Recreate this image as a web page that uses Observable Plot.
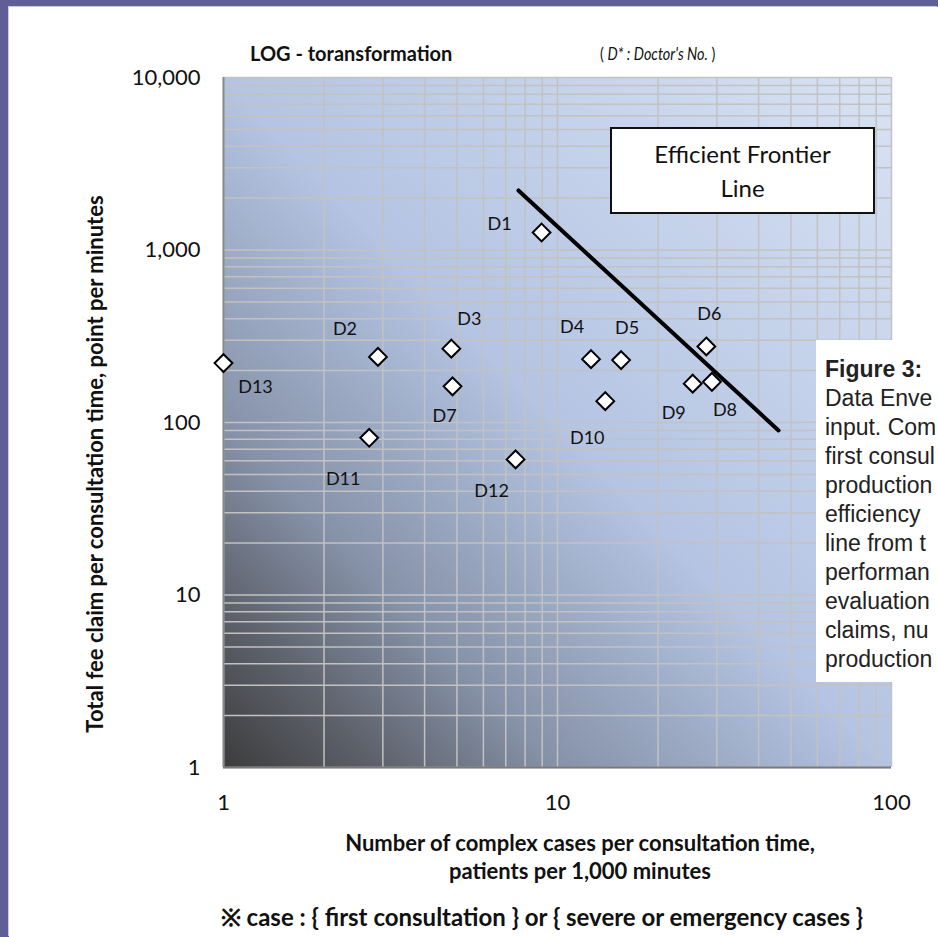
<!DOCTYPE html>
<html>
<head>
<meta charset="utf-8">
<script src="https://cdn.jsdelivr.net/npm/d3@7"></script>
<script src="https://cdn.jsdelivr.net/npm/@observablehq/plot@0.6"></script>
<style>
html,body{margin:0;padding:0;background:#5f5e97;}
#page{position:relative;width:938px;height:937px;overflow:hidden;background:#5f5e97;}
#panel{position:absolute;left:9px;top:7px;right:0;bottom:0;background:#fff;box-shadow:-1px -1px 0 #c9c8e6;}
#chart{position:absolute;left:0;top:0;}
.txt{position:absolute;font-family:Lato,sans-serif;color:#111;white-space:nowrap;line-height:1;}
#effbox{position:absolute;left:610px;top:127px;width:261px;height:83px;background:#fff;border:2px solid #111;display:flex;flex-direction:column;align-items:center;justify-content:center;font-family:Lato,sans-serif;font-size:24px;line-height:34px;color:#111;}
#figbox{position:absolute;left:816px;top:340px;width:122px;height:342px;background:#fff;overflow:hidden;font-family:"Liberation Sans",Arial,sans-serif;font-size:23px;line-height:29px;color:#222;box-sizing:border-box;padding:15px 0 0 9px;}
#figbox div{white-space:nowrap;}
</style>
</head>
<body>
<div id="page">
  <div id="panel"></div>
  <div id="chart"></div>
  <div class="txt" style="left:250px;top:43px;font-weight:bold;font-size:20px;">LOG - toransformation</div>
  <div class="txt" style="left:600px;top:44px;font-size:18px;transform:scaleX(0.8);transform-origin:0 50%;">( <i>D* : Doctor's No.</i> )</div>
  <div class="txt" style="left:95px;top:464px;font-weight:bold;font-size:22px;transform:translate(-50%,-50%) rotate(-90deg);">Total fee claim per consultation time, point per minutes</div>
  <div class="txt" style="left:230px;width:700px;top:829px;text-align:center;font-weight:bold;font-size:22px;line-height:28px;">Number of complex cases per consultation time,<br>patients per 1,000 minutes</div>
  <div class="txt" style="left:92px;width:900px;top:905px;text-align:center;font-weight:bold;font-size:24px;">※ case : { first consultation } or { severe or emergency cases }</div>
  <div id="effbox"><div>Efficient Frontier</div><div>Line</div></div>
  <div id="figbox">
    <div><b>Figure 3:</b></div>
    <div>Data Enve</div>
    <div>input. Com</div>
    <div>first consul</div>
    <div>production</div>
    <div>efficiency</div>
    <div>line from t</div>
    <div>performan</div>
    <div>evaluation</div>
    <div>claims, nu</div>
    <div>production</div>
  </div>
</div>
<script>
// ---- data ----
const doctors = ["D1","D2","D3","D4","D5","D6","D7","D8","D9","D10","D11","D12","D13"];
const complexCases = [8.96, 2.90, 4.81, 12.6, 15.5, 27.9, 4.85, 29.0, 25.4, 13.9, 2.73, 7.49, 1.0];
const feeClaim =     [1263, 240, 268, 233, 230, 276, 162, 172, 168, 133, 81.5, 61.1, 221];
const frontierCases = [7.64, 45.9];
const frontierFee = [2213, 89.9];
const xTickValues = [1, 10, 100];
const yTickValues = [1, 10, 100, 1000, 10000];

// ---- label placement (pixel offsets from each marker) ----
const labelDx = [-42, -33, 18, -19, 6, 3, -8, 13, -19, -18, -26, -24, 32];
const labelDy = [-8, -28, -29, -32, -32, -32, 30, 28, 30, 37, 41, 32, 24];

const points = doctors.map((d, i) => ({doctor: d, cases: complexCases[i], fee: feeClaim[i]}));
const frontier = frontierCases.map((c, i) => ({cases: c, fee: frontierFee[i]}));

const xGrid = d3.scaleLog().domain([1, 100]).ticks();
const yGrid = d3.scaleLog().domain([1, 10000]).ticks();

function background(index, scales, values, dims) {
  const {width, height, marginLeft, marginRight, marginTop, marginBottom} = dims;
  const g = d3.create("svg:g");
  const grad = g.append("defs").append("linearGradient")
    .attr("id", "plotbg").attr("x1", 0).attr("y1", 1).attr("x2", 1).attr("y2", 0);
  [[0, "#3c3c3c"], [0.12, "#5e626c"], [0.25, "#8692a8"], [0.5, "#b4c4e2"], [1, "#d8e2f4"]]
    .forEach(([o, c]) => grad.append("stop").attr("offset", o).attr("stop-color", c));
  g.append("rect")
    .attr("x", marginLeft).attr("y", marginTop)
    .attr("width", width - marginLeft - marginRight)
    .attr("height", height - marginTop - marginBottom)
    .attr("fill", "url(#plotbg)");
  return g.node();
}

const chart = Plot.plot({
  width: 938,
  height: 937,
  marginLeft: 223,
  marginRight: 47,
  marginTop: 77,
  marginBottom: 170,
  style: {fontFamily: "Lato, sans-serif", fontSize: "22px", color: "#111", background: "transparent", overflow: "visible"},
  x: {type: "log", domain: [1, 100], ticks: xTickValues, tickFormat: ",", tickSize: 0, tickPadding: 27, label: null},
  y: {type: "log", domain: [1, 10000], ticks: yTickValues, tickFormat: ",", tickSize: 0, tickPadding: 23, label: null},
  marks: [
    background,
    Plot.ruleX(xGrid, {stroke: "#c2c2c2", strokeWidth: 1.5}),
    Plot.ruleY(yGrid, {stroke: "#c2c2c2", strokeWidth: 1.5}),
    Plot.ruleX([1], {stroke: "#8a8a8a", strokeWidth: 2}),
    Plot.ruleY([1], {stroke: "#7a7a7a", strokeWidth: 2}),
    Plot.line(frontier, {x: "cases", y: "fee", stroke: "#000", strokeWidth: 4}),
    Plot.dot(points, {x: "cases", y: "fee", symbol: "diamond2", r: 8, fill: "#fff", stroke: "#000", strokeWidth: 2}),
    ...points.map((p, i) => Plot.text([p], {x: "cases", y: "fee", text: "doctor", dx: labelDx[i], dy: labelDy[i], fontSize: 18, fill: "#111"}))
  ]
});
document.getElementById("chart").appendChild(chart);
</script>
</body>
</html>
